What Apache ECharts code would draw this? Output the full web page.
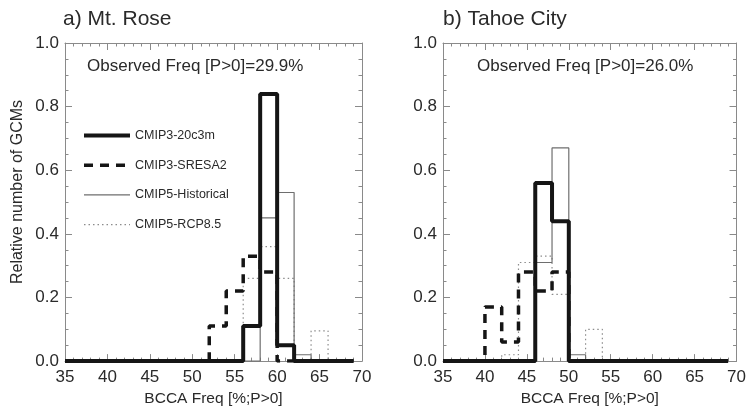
<!DOCTYPE html>
<html lang="en">
<head>
    <meta charset="UTF-8">
    <title>Relative number of GCMs</title>
    <script src="https://cdn.jsdelivr.net/npm/echarts@6/dist/echarts.min.js"></script>
    <style>
        html, body { margin: 0; padding: 0; background: #fff; }
        #main { width: 749px; height: 412px; }
    </style>
</head>
<body>
    <div id="main"></div>
    <script>
        // bin centres (2% wide bins), shared by both panels
        var binCenters = [35, 37, 39, 41, 43, 45, 47, 49, 51, 53, 55, 57, 59, 61, 63, 65, 67, 69];

        // a) Mt. Rose
        var roseC3Hist = [0, 0, 0, 0, 0, 0, 0, 0, 0, 0, 0, 0.11, 0.84, 0.05, 0, 0, 0, 0];
        var roseC3A2   = [0, 0, 0, 0, 0, 0, 0, 0, 0, 0.11, 0.22, 0.33, 0.28, 0, 0, 0, 0, 0];
        var roseC5Hist = [0, 0, 0, 0, 0, 0, 0, 0, 0, 0, 0, 0, 0.45, 0.53, 0.02, 0, 0, 0];
        var roseC5Rcp  = [0, 0, 0, 0, 0, 0, 0, 0, 0, 0, 0, 0.26, 0.36, 0.26, 0, 0.095, 0, 0];

        // b) Tahoe City
        var tahoeC3Hist = [0, 0, 0, 0, 0, 0, 0.56, 0.44, 0, 0, 0, 0, 0, 0, 0, 0, 0, 0];
        var tahoeC3A2   = [0, 0, 0, 0.17, 0.06, 0.28, 0.22, 0.28, 0, 0, 0, 0, 0, 0, 0, 0, 0, 0];
        var tahoeC5Hist = [0, 0, 0, 0, 0, 0, 0.31, 0.67, 0.02, 0, 0, 0, 0, 0, 0, 0, 0, 0];
        var tahoeC5Rcp  = [0, 0, 0, 0, 0.02, 0.31, 0.33, 0.21, 0, 0.10, 0, 0, 0, 0, 0, 0, 0, 0];

        var xTicks = [35, 70, 5];   // min, max, step
        var yTicks = [0, 1, 0.2];

        var FONT = '"Liberation Sans", Arial, Helvetica, sans-serif';
        var TXT = '#2a2a2a';
        var BOX = '#8a8a8a';

        function pairs(vals) {
            return binCenters.map(function (c, i) { return [c, vals[i]]; });
        }

        function xAxisFor(grid, pos) {
            var bottom = pos === 'bottom';
            return {
                type: 'value', gridIndex: grid, position: pos,
                min: xTicks[0], max: xTicks[1], interval: xTicks[2],
                name: bottom ? 'BCCA Freq [%;P>0]' : '',
                nameLocation: 'middle', nameGap: 27,
                nameTextStyle: { fontFamily: FONT, fontSize: 15.5, color: TXT },
                axisLine: { show: true, onZero: false, lineStyle: { color: BOX, width: 1 } },
                axisTick: { show: true, inside: true, length: 7, lineStyle: { color: BOX } },
                minorTick: { show: true, splitNumber: 5, length: 3.5, lineStyle: { color: BOX } },
                axisLabel: { show: bottom, margin: 8, fontFamily: FONT, fontSize: 17, color: TXT },
                splitLine: { show: false }
            };
        }

        function yAxisFor(grid, pos) {
            var left = pos === 'left';
            return {
                type: 'value', gridIndex: grid, position: pos,
                min: yTicks[0], max: yTicks[1], interval: yTicks[2],
                axisLine: { show: true, onZero: false, lineStyle: { color: BOX, width: 1 } },
                axisTick: { show: true, inside: true, length: 7, lineStyle: { color: BOX } },
                minorTick: { show: true, splitNumber: 4, length: 3.5, lineStyle: { color: BOX } },
                axisLabel: {
                    show: left, margin: 6, fontFamily: FONT, fontSize: 17, color: TXT,
                    formatter: function (v) { return v.toFixed(1); }
                },
                splitLine: { show: false }
            };
        }

        var styles = [
            { name: 'CMIP3-20c3m', color: '#151515', width: 4, type: 'solid', z: 5 },
            { name: 'CMIP3-SRESA2', color: '#151515', width: 3.5, type: [9, 7], z: 4 },
            { name: 'CMIP5-Historical', color: '#6e6e6e', width: 1.2, type: 'solid', z: 3 },
            { name: 'CMIP5-RCP8.5', color: '#8c8c8c', width: 1.2, type: [1.5, 3], z: 2 }
        ];

        function makeSeries(axisIdx, sets) {
            return styles.map(function (s, i) {
                return {
                    name: s.name,
                    type: 'line',
                    step: 'middle',
                    symbol: 'none',
                    xAxisIndex: axisIdx,
                    yAxisIndex: axisIdx,
                    z: s.z,
                    color: s.color,
                    lineStyle: { color: s.color, width: s.width, type: s.type },
                    data: pairs(sets[i])
                };
            });
        }

        var chart = echarts.init(document.getElementById('main'));
        var option = {
            animation: false,
            backgroundColor: '#fff',
            textStyle: { fontFamily: FONT },
            title: [
                { text: 'a) Mt. Rose', left: 63, top: 9, padding: 0,
                  textStyle: { fontFamily: FONT, fontSize: 21, fontWeight: 'normal', color: TXT } },
                { text: 'b) Tahoe City', left: 443, top: 9, padding: 0,
                  textStyle: { fontFamily: FONT, fontSize: 21, fontWeight: 'normal', color: TXT } },
                { text: 'Observed Freq [P>0]=29.9%', left: 87, top: 58, padding: 0,
                  textStyle: { fontFamily: FONT, fontSize: 17, fontWeight: 'normal', color: TXT } },
                { text: 'Observed Freq [P>0]=26.0%', left: 477, top: 58, padding: 0,
                  textStyle: { fontFamily: FONT, fontSize: 17, fontWeight: 'normal', color: TXT } }
            ],
            graphic: [
                {
                    type: 'text', x: 18, y: 192, rotation: Math.PI / 2, silent: true,
                    style: {
                        text: 'Relative number of GCMs', fontFamily: FONT, fontSize: 16,
                        fill: TXT, align: 'center', verticalAlign: 'middle'
                    }
                }
            ],
            legend: {
                orient: 'vertical',
                left: 82, top: 129, padding: 0,
                itemWidth: 46, itemHeight: 12, itemGap: 16.7,
                selectedMode: false,
                itemStyle: { opacity: 0 },
                textStyle: { fontFamily: FONT, fontSize: 12.5, color: TXT },
                data: styles.map(function (s) {
                    return { name: s.name, lineStyle: { color: s.color, width: s.width, type: s.type } };
                })
            },
            grid: [
                { left: 65, top: 43, width: 297, height: 327 },
                { left: 443, top: 43, width: 296.5, height: 327 }
            ],
            xAxis: [xAxisFor(0, 'bottom'), xAxisFor(0, 'top'), xAxisFor(1, 'bottom'), xAxisFor(1, 'top')],
            yAxis: [yAxisFor(0, 'left'), yAxisFor(0, 'right'), yAxisFor(1, 'left'), yAxisFor(1, 'right')],
            series: makeSeries(0, [roseC3Hist, roseC3A2, roseC5Hist, roseC5Rcp])
                .concat(makeSeries(2, [tahoeC3Hist, tahoeC3A2, tahoeC5Hist, tahoeC5Rcp]))
        };
        chart.setOption(option);
    </script>
</body>
</html>
